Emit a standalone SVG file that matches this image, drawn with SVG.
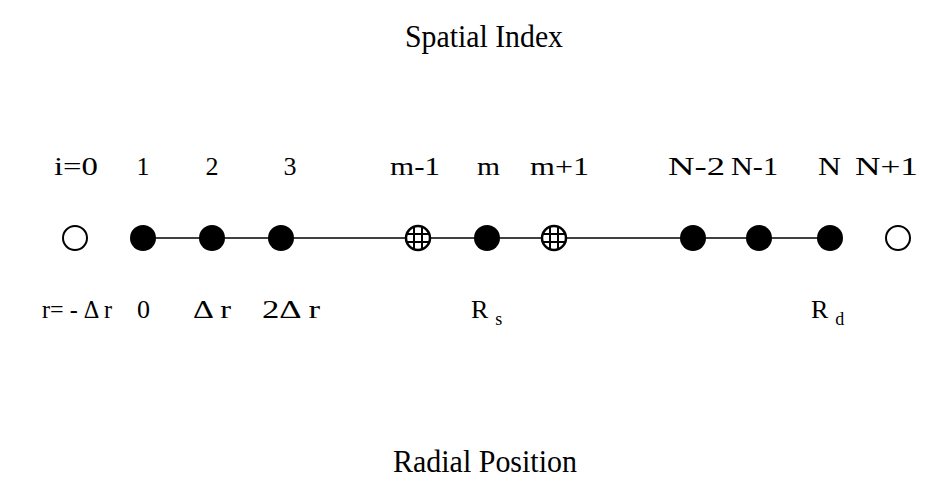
<svg xmlns="http://www.w3.org/2000/svg" width="927" height="482" viewBox="0 0 927 482">
<style>
text{font-family:"Liberation Serif","Times New Roman",serif;fill:#000}
.t{font-size:31px}
.l{font-size:26px}
.open{fill:#fff;stroke:#000;stroke-width:2}
.full{fill:#000}
.hat{fill:#fff;stroke:#000;stroke-width:2.5}
.grid{stroke:#000;stroke-width:2}
</style>
<rect width="927" height="482" fill="#fff"/>
<text class="t" x="405" y="47" textLength="158" lengthAdjust="spacingAndGlyphs">Spatial Index</text>
<text class="t" x="393" y="472" textLength="184" lengthAdjust="spacingAndGlyphs">Radial Position</text>
<g id="connectors">
<line x1="143" y1="238" x2="830" y2="238" stroke="#000" stroke-width="1.6"/>
</g>
<g id="n0"><circle class="open" cx="75" cy="238" r="12"/><text class="l" x="54" y="175" textLength="44" lengthAdjust="spacingAndGlyphs">i=0</text></g>
<g id="n1"><circle class="full" cx="143" cy="238" r="13"/><text class="l" x="143" y="175" text-anchor="middle">1</text></g>
<g id="n2"><circle class="full" cx="212" cy="238" r="13"/><text class="l" x="212" y="175" text-anchor="middle">2</text></g>
<g id="n3"><circle class="full" cx="281" cy="238" r="13"/><text class="l" x="290" y="175" text-anchor="middle">3</text></g>
<g id="nm1"><circle class="hat" cx="418" cy="238" r="12"/><path class="grid" d="M414 227v22M422 227v22M407 234h22M407 242h22"/><text class="l" x="390" y="175" textLength="50" lengthAdjust="spacingAndGlyphs">m-1</text></g>
<g id="nm"><circle class="full" cx="487" cy="238" r="13"/><text class="l" x="477" y="175" textLength="23" lengthAdjust="spacingAndGlyphs">m</text></g>
<g id="nm2"><circle class="hat" cx="554" cy="238" r="12"/><path class="grid" d="M550 227v22M558 227v22M543 234h22M543 242h22"/><text class="l" x="530" y="175" textLength="59" lengthAdjust="spacingAndGlyphs">m+1</text></g>
<g id="nN2"><circle class="full" cx="693" cy="238" r="13"/><text class="l" x="668" y="175" textLength="57" lengthAdjust="spacingAndGlyphs">N-2</text></g>
<g id="nN1"><circle class="full" cx="759" cy="238" r="13"/><text class="l" x="731" y="175" textLength="47" lengthAdjust="spacingAndGlyphs">N-1</text></g>
<g id="nN"><circle class="full" cx="830" cy="238" r="13"/><text class="l" x="818" y="175" textLength="23" lengthAdjust="spacingAndGlyphs">N</text></g>
<g id="nN3"><circle class="open" cx="898" cy="238" r="12"/><text class="l" x="855" y="175" textLength="63" lengthAdjust="spacingAndGlyphs">N+1</text></g>
<g id="rlabels">
<text class="l" x="42" y="318" textLength="70" lengthAdjust="spacingAndGlyphs">r= - Δ r</text>
<text class="l" x="137" y="318" textLength="13" lengthAdjust="spacingAndGlyphs">0</text>
<text class="l" x="193" y="318" textLength="38" lengthAdjust="spacingAndGlyphs">Δ r</text>
<text class="l" x="262" y="318" textLength="58" lengthAdjust="spacingAndGlyphs">2Δ r</text>
<text class="l" x="471" y="318">R<tspan font-size="18" dx="7" dy="7">s</tspan></text>
<text class="l" x="811" y="318">R<tspan font-size="18" dx="7" dy="7">d</tspan></text>
</g>
</svg>
